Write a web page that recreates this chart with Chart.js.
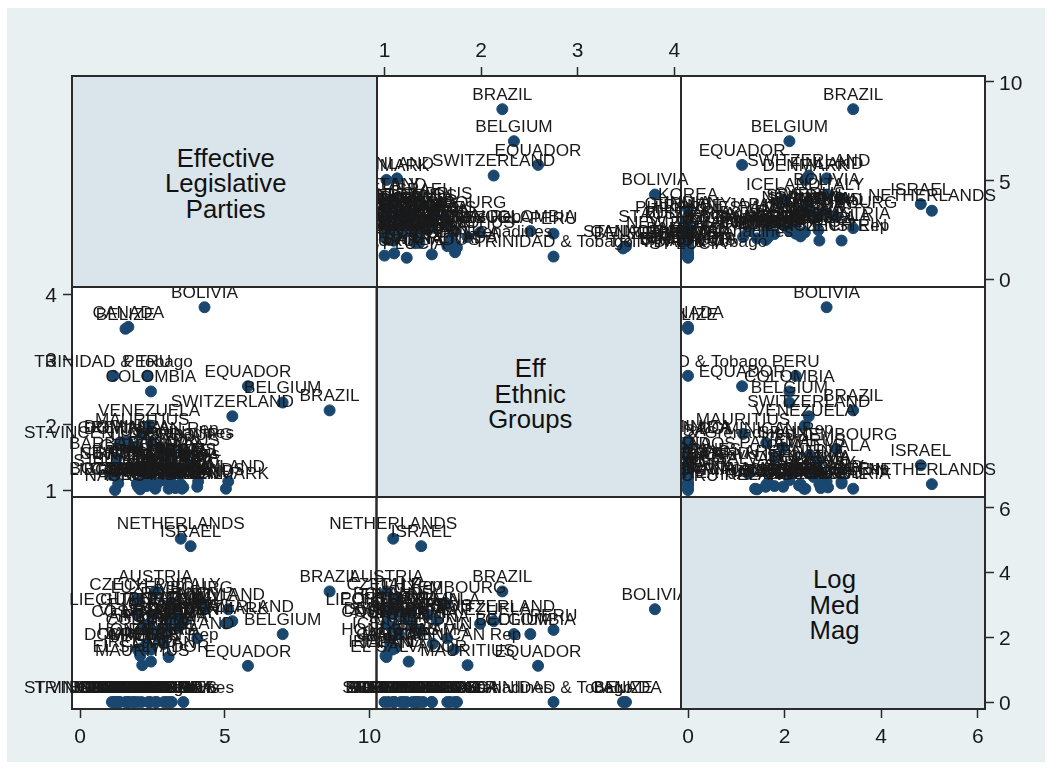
<!DOCTYPE html>
<html>
<head>
<meta charset="utf-8">
<title>Scatter matrix</title>
<script src="https://cdn.jsdelivr.net/npm/chart.js@4"></script>
<style>
  html, body { margin: 0; padding: 0; background: #fff; }
  #page { position: relative; width: 1052px; height: 769px; overflow: hidden; }
  #bg { position: absolute; left: 7px; top: 8px; width: 1038px; height: 754px; background: #e8f0f2; }
  #plot { position: absolute; left: 72px; top: 76px; width: 913px; height: 633px; background: #fff; }
  canvas { position: absolute; left: 0; top: 0; }
  .diag {
    position: absolute; box-sizing: border-box; border: 2px solid #2a2a2a; background: #d9e5ea;
    display: flex; align-items: center; justify-content: center; text-align: center;
    padding-top: 5px; padding-left: 3px;
    font: 25.7px/25.5px "Liberation Sans", Arial, sans-serif; color: #111;
  }
</style>
</head>
<body>
<div id="page">
  <div id="bg"></div>
  <div id="plot"></div>
</div>
<script>
const countries = ['BRAZIL','BELGIUM','EQUADOR','SWITZERLAND','BOLIVIA','CANADA','BELIZE','TRINIDAD & Tobago','PERU','COLOMBIA',
  'VENEZUELA','MAURITIUS','DOMINICAN Rep','ST.VINCENT & Grenadines','ST KITTS & Nevis','LUXEMBOURG','SPAIN','CYPRUS','NETHERLANDS','ISRAEL',
  'AUSTRIA','CZECH Rep','ITALY','FINLAND','DENMARK','ICELAND','LIECHTENSTEIN','PORTUGAL','COSTA RICA','ARGENTINA',
  'JAPAN','EL SALVADOR','IRELAND','JAMAICA','GREECE','CHILE','POLAND','NORWAY','SWEDEN','SLOVAKIA',
  'LATVIA','HONDURAS','BAHAMAS','BARBADOS','DOMINICA','GRENADA','BOTSWANA','ST LUCIA','NEW ZEALAND','KOREA',
  'GERMANY','INDIA','USA','UK','FRANCE','NAURU','KIRIBATI','BULGARIA',
  'URUGUAY','PHILIPPINES','GUATEMALA','MALTA','AUSTRALIA','PANAMA','LITHUANIA'];

const elp = [8.62,7.0,5.8,5.26,4.3,1.67,1.57,1.16,2.32,2.45,
  2.39,2.15,2.46,1.69,2.42,3.17,2.77,3.6,3.48,3.82,
  2.6,1.97,4.08,5.12,5.04,4.05,1.97,3.29,2.18,2.7,
  3.06,2.45,2.08,2.13,2.2,2.9,3.3,3.38,3.52,3.36,
  3.36,2.3,1.85,1.27,1.62,1.38,1.32,1.1,2.12,3.57,
  3.11,3.17,1.98,2.36,3.0,1.21,1.84,2.65,
  3.1,2.9,2.5,2.0,2.6,2.9,3.0];

const eneg = [2.22,2.34,2.59,2.13,3.8,3.5,3.47,2.75,2.75,2.51,
  1.99,1.86,1.72,1.65,1.33,1.63,1.65,1.54,1.09,1.38,
  1.02,1.1,1.13,1.13,1.02,1.05,1.09,1.03,1.09,1.36,
  1.02,1.25,1.01,1.11,1.08,1.15,1.04,1.07,1.02,1.28,
  1.26,1.06,1.36,1.49,1.75,1.73,1.1,1.23,1.34,1.04,
  1.17,1.49,1.68,1.2,1.29,1.0,1.32,1.09,
  1.2,1.4,1.45,1.05,1.1,1.5,1.3];

const logMag = [3.42,2.1,1.12,2.5,2.87,0,0,0,2.23,2.1,
  2.42,1.14,1.62,0,0,3.07,1.97,2.52,5.05,4.82,
  3.42,3.18,3.18,2.87,2.43,1.97,2.72,2.75,2.33,2.2,
  1.39,1.25,1.43,1.66,1.62,2.1,2.9,2.3,2.4,2.5,
  2.78,1.79,0,0,0,0,0,0,0,0,
  0,0,0,0,0,0,0,0,
  2.6,0,2.7,1.61,0,1.8,2.3];

const elpTicks = [0, 5, 10];
const enegTicks = [1, 2, 3, 4];
const logMagTicks = [0, 2, 4, 6];

const diagonalLabels = [['Effective', 'Legislative', 'Parties'], ['Eff', 'Ethnic', 'Groups'], ['Log', 'Med', 'Mag']];

const navy = '#1a476f';
const inkColor = '#1a1a1a';
const lineColor = '#2a2a2a';
const labelFont = '17.2px "Liberation Sans", Arial, sans-serif';

const colEdges = [72, 376.5, 681, 985];
const rowEdges = [76, 287, 497, 709];

const variables = [
  {values: elp, xRange: [-0.277, 10.24], yRange: [-0.38, 10.3], ticks: elpTicks},
  {values: eneg, xRange: [0.917, 4.07], yRange: [0.893, 4.11], ticks: enegTicks},
  {values: logMag, xRange: [-0.145, 6.15], yRange: [-0.216, 6.34], ticks: logMagTicks}
];

const labelPadding = {top: 3, bottom: 7, left: 6, right: 5};

// labels sit centred above each marker, the way stata does mlabpos(12)
const markerLabels = {
  id: 'markerLabels',
  afterDatasetsDraw(chart) {
    const ctx = chart.ctx;
    ctx.save();
    ctx.font = labelFont;
    ctx.fillStyle = inkColor;
    ctx.textAlign = 'center';
    ctx.textBaseline = 'middle';
    chart.getDatasetMeta(0).data.forEach((point, i) => {
      ctx.fillText(countries[i], point.x, point.y - 14);
    });
    ctx.restore();
  }
};

const panelFrame = {
  id: 'panelFrame',
  beforeDatasetsDraw(chart) {
    const {left, top, width, height} = chart.chartArea;
    const ctx = chart.ctx;
    ctx.save();
    ctx.strokeStyle = lineColor;
    ctx.lineWidth = 2;
    ctx.strokeRect(left, top, width, height);
    ctx.restore();
  }
};

function axisOptions(range, ticks, position, size) {
  if (!position) {
    return {display: false, min: range[0], max: range[1]};
  }
  const vertical = position === 'left' || position === 'right';
  return {
    display: true,
    position: position,
    min: range[0],
    max: range[1],
    afterBuildTicks: scale => { scale.ticks = ticks.map(v => ({value: v})); },
    afterFit: scale => {
      if (scale.isHorizontal()) scale.height = size;
      else scale.width = size;
    },
    grid: {drawOnChartArea: false, drawTicks: true, tickLength: 9, tickColor: lineColor, tickWidth: 1.5},
    border: {display: false},
    ticks: {
      autoSkip: false,
      maxRotation: 0,
      padding: labelPadding[position],
      labelOffset: vertical ? 2 : 0,
      color: inkColor,
      font: {family: '"Liberation Sans", Arial, sans-serif', size: 21}
    }
  };
}

function drawPanel(row, col, xPos, yPos) {
  const canvas = document.createElement('canvas');
  canvas.width = 1052;
  canvas.height = 769;
  canvas.style.width = '1052px';
  canvas.style.height = '769px';
  document.getElementById('page').appendChild(canvas);

  const axisSize = 45;
  const padding = {
    left: colEdges[col] - (yPos === 'left' ? axisSize : 0),
    right: 1052 - colEdges[col + 1] - (yPos === 'right' ? axisSize : 0),
    top: rowEdges[row] - (xPos === 'top' ? axisSize : 0),
    bottom: 769 - rowEdges[row + 1] - (xPos === 'bottom' ? axisSize : 0)
  };

  const xVar = variables[col];
  const yVar = variables[row];
  const points = countries.map((c, i) => ({x: xVar.values[i], y: yVar.values[i]}));

  new Chart(canvas.getContext('2d'), {
    type: 'scatter',
    data: {
      datasets: [{
        data: points,
        backgroundColor: navy,
        borderColor: navy,
        pointRadius: 5.5,
        clip: false
      }]
    },
    options: {
      responsive: false,
      animation: false,
      layout: {padding: padding},
      plugins: {legend: {display: false}, tooltip: {enabled: false}},
      scales: {
        x: axisOptions(xVar.xRange, xVar.ticks, xPos, axisSize),
        y: axisOptions(yVar.yRange, yVar.ticks, yPos, axisSize)
      }
    },
    plugins: [panelFrame, markerLabels]
  });
}

function drawDiagonal(i) {
  const box = document.createElement('div');
  box.className = 'diag';
  box.style.left = (colEdges[i] - 1) + 'px';
  box.style.top = (rowEdges[i] - 1) + 'px';
  box.style.width = (colEdges[i + 1] - colEdges[i] + 2) + 'px';
  box.style.height = (rowEdges[i + 1] - rowEdges[i] + 2) + 'px';
  box.innerHTML = diagonalLabels[i].join('<br>');
  document.getElementById('page').appendChild(box);
}

drawPanel(0, 1, 'top', null);
drawPanel(0, 2, null, 'right');
drawPanel(1, 0, null, 'left');
drawPanel(1, 2, null, null);
drawPanel(2, 0, 'bottom', null);
drawPanel(2, 1, null, null);
drawDiagonal(0);
drawDiagonal(1);
drawDiagonal(2);

// col 3 bottom axis and row 3 right axis sit on the empty diagonal corner
const cornerCanvas = document.createElement('canvas');
cornerCanvas.width = 1052;
cornerCanvas.height = 769;
document.getElementById('page').appendChild(cornerCanvas);
new Chart(cornerCanvas.getContext('2d'), {
  type: 'scatter',
  data: {datasets: [{data: []}]},
  options: {
    responsive: false,
    animation: false,
    layout: {padding: {left: colEdges[2], right: 1052 - colEdges[3] - 45, top: rowEdges[2], bottom: 769 - rowEdges[3] - 45}},
    plugins: {legend: {display: false}, tooltip: {enabled: false}},
    scales: {
      x: axisOptions(variables[2].xRange, logMagTicks, 'bottom', 45),
      y: axisOptions(variables[2].yRange, logMagTicks, 'right', 45)
    }
  }
});
</script>
</body>
</html>
